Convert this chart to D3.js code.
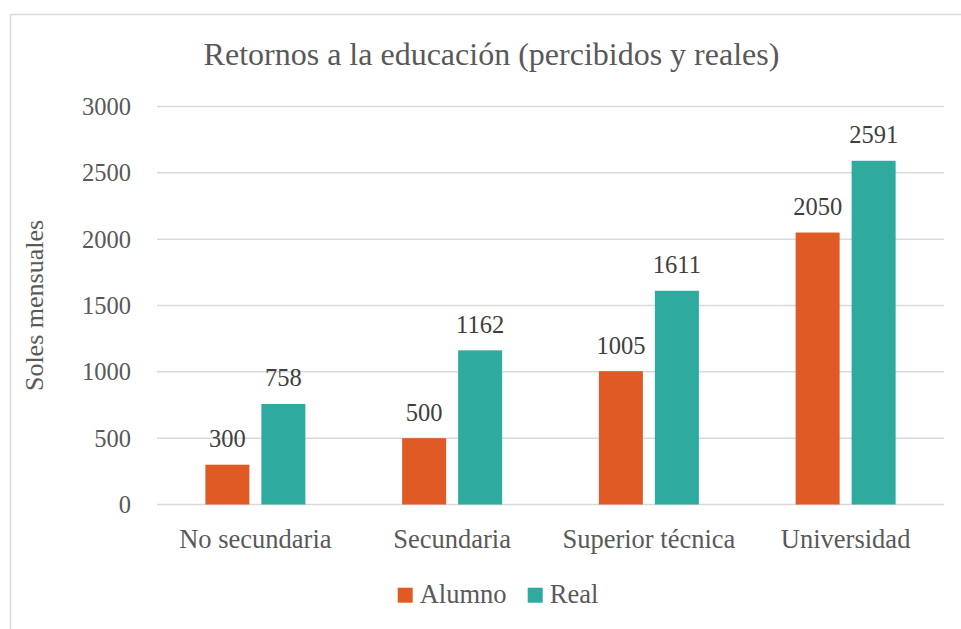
<!DOCTYPE html>
<html><head><meta charset="utf-8">
<script src="https://cdn.jsdelivr.net/npm/d3@7"></script>
<style>
html,body{margin:0;padding:0;background:#fff;}
svg{display:block;}
text{font-family:"Liberation Serif","DejaVu Serif",serif;fill:#595959;}
</style></head>
<body>
<svg id="chart" width="961" height="629"></svg>
<script>
const categories = ["No secundaria","Secundaria","Superior técnica","Universidad"];
const seriesNames = ["Alumno","Real"];
const alumnoValues = [300,500,1005,2050];
const realValues = [758,1162,1611,2591];
const yTicks = [0,500,1000,1500,2000,2500,3000];
const colors = ["#E05A26","#2EAA9E"];
const title = "Retornos a la educación (percibidos y reales)";
const yLabel = "Soles mensuales";

const svg = d3.select("#chart");
const W = 961, H = 629;
const plot = {left:157, right:944, top:106.5, bottom:504.5};

// border
svg.append("rect").attr("x",10.5).attr("y",14.5).attr("width",W+10).attr("height",H+10)
  .attr("fill","none").attr("stroke","#D9D9D9").attr("stroke-width",1.5);

const y = d3.scaleLinear().domain([0,3000]).range([plot.bottom, plot.top]);
const step = (plot.right-plot.left)/categories.length;
const pInner = 1 - 100/step;
const x0 = d3.scaleBand().domain(categories).range([plot.left, plot.right])
  .paddingInner(pInner).paddingOuter(pInner/2);
const x1 = d3.scaleBand().domain(seriesNames).range([0, x0.bandwidth()]).paddingInner(12/56).paddingOuter(0);

// gridlines
svg.append("g").selectAll("line").data(yTicks).join("line")
  .attr("x1",plot.left).attr("x2",plot.right)
  .attr("y1",d=>y(d)).attr("y2",d=>y(d))
  .attr("stroke","#D9D9D9").attr("stroke-width",1.5);

// y tick labels
svg.append("g").selectAll("text").data(yTicks).join("text")
  .attr("x",131).attr("y",d=>y(d)+8.5)
  .attr("text-anchor","end").attr("font-size",24.5)
  .text(d=>d);

// bars
const rows = categories.map((c,i)=>({cat:c, vals:[
  {s:seriesNames[0], v:alumnoValues[i], c:colors[0]},
  {s:seriesNames[1], v:realValues[i], c:colors[1]}]}));
const g = svg.append("g").selectAll("g").data(rows).join("g")
  .attr("transform",d=>`translate(${x0(d.cat)},0)`);
g.selectAll("rect").data(d=>d.vals).join("rect")
  .attr("x",d=>x1(d.s)).attr("width",x1.bandwidth())
  .attr("y",d=>y(d.v)).attr("height",d=>y(0)-y(d.v))
  .attr("fill",d=>d.c);
g.selectAll("text").data(d=>d.vals).join("text")
  .attr("x",d=>x1(d.s)+x1.bandwidth()/2).attr("y",d=>y(d.v)-17.5)
  .attr("text-anchor","middle").attr("font-size",24.5)
  .style("fill","#404040")
  .text(d=>d.v);

// category labels
svg.append("g").selectAll("text").data(categories).join("text")
  .attr("x",d=>x0(d)+x0.bandwidth()/2).attr("y",548)
  .attr("text-anchor","middle").attr("font-size",26.5)
  .text(d=>d);

// title
svg.append("text").attr("x",491.5).attr("y",65).attr("text-anchor","middle")
  .attr("font-size",32).text(title);

// y label
svg.append("text").attr("transform",`translate(43,${(plot.top+plot.bottom)/2}) rotate(-90)`)
  .attr("text-anchor","middle").attr("font-size",26).text(yLabel);

// legend
const legendX = [397.7, 527.7];
const lg = svg.append("g").selectAll("g").data(seriesNames).join("g")
  .attr("transform",(d,i)=>`translate(${legendX[i]},587.7)`);
lg.append("rect").attr("width",15).attr("height",15).attr("fill",(d,i)=>colors[i]);
lg.append("text").attr("x",22).attr("y",15).attr("font-size",26.5).text(d=>d);
</script>
</body></html>
